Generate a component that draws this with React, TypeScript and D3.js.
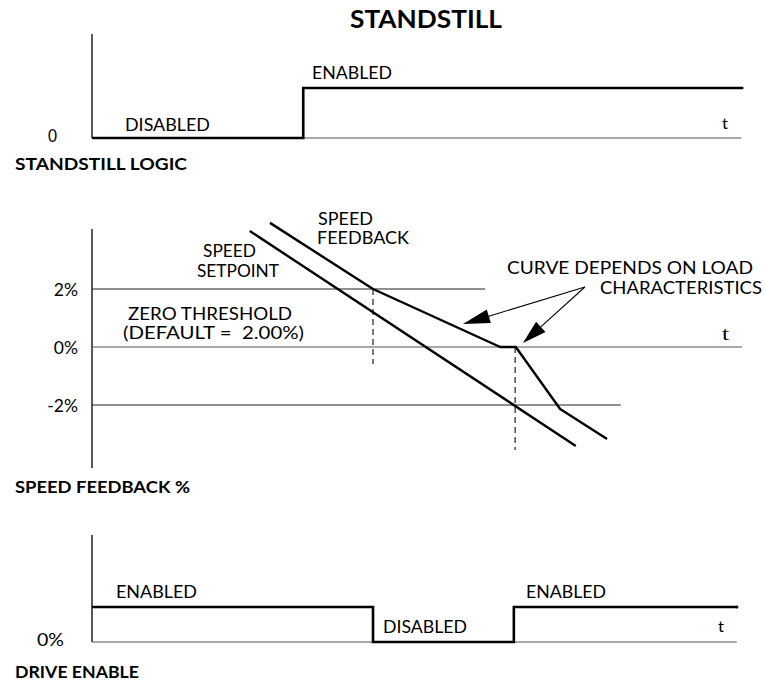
import React from "react";
import * as d3 from "d3";

// ---- data (time in arbitrary units 0..100, speed in %) ----
const timeDomain = [0, 100];
const standstillLogic: [number, number][] = [[0, 0], [32.4, 1], [99.9, 1]];
const standstillBaselineEnd = 99.6;
const driveEnable: [number, number][] = [[0, 1], [43.1, 0], [64.7, 1], [98.9, 1]];
const driveBaselineEnd = 98.9;
const speedSetpoint: [number, number][] = [[24.2, 4.0], [74.2, -3.41]];
const speedFeedback: [number, number][] = [[27.3, 4.28], [43.1, 2.0], [62.6, 0], [65.0, 0], [71.8, -2.14], [79.0, -3.17]];
const thresholdLevels = [2, 0, -2];
const thresholdEnds = [60.3, 99.7, 81.1];
const thresholdLabels = ["2%", "0%", "-2%"];
const dashedTimes = [43.1, 64.9];
const dashedFrom = [2, 0];
const dashedTo = [-0.59, -3.55];
const arrowOrigin: [number, number] = [75.6, 2.07];
const arrowTips: [number, number][] = [[56.9, 0.79], [66.1, 0.14]];

const SANS = "Lato, 'Noto Sans', sans-serif";

export default function App() {
  const x = d3.scaleLinear().domain(timeDomain).range([92, 744]);
  const y1 = d3.scaleLinear().domain([0, 1]).range([138, 88]);
  const y2 = d3.scaleLinear().domain([-2, 2]).range([405, 289]);
  const y3 = d3.scaleLinear().domain([0, 1]).range([642, 607]);

  const step1 = d3.line<[number, number]>().x((d) => x(d[0])).y((d) => y1(d[1])).curve(d3.curveStepAfter);
  const step3 = d3.line<[number, number]>().x((d) => x(d[0])).y((d) => y3(d[1])).curve(d3.curveStepAfter);
  const line2 = d3.line<[number, number]>().x((d) => x(d[0])).y((d) => y2(d[1]));

  const T = (props: { x: number; y: number; w: number; s?: number; b?: boolean; serif?: boolean; children: string }) => (
    <text
      x={props.x}
      y={props.y}
      fontSize={props.s ?? 17.5}
      fontWeight={props.b ? 700 : 400}
      fontFamily={props.serif ? "'Liberation Serif', serif" : SANS}
      textLength={props.w}
      lengthAdjust="spacingAndGlyphs"
      fill="#000"
      style={{ whiteSpace: "pre" }}
    >
      {props.children}
    </text>
  );

  const ox = x(arrowOrigin[0]);
  const oy = y2(arrowOrigin[1]);
  const arrows = arrowTips.map((tp, i) => {
    const tx = x(tp[0]);
    const ty = y2(tp[1]);
    const dx = ox - tx;
    const dy = oy - ty;
    const len = Math.hypot(dx, dy);
    const ux = dx / len;
    const uy = dy / len;
    const hl = i === 0 ? 27 : 24;
    const hw = 7;
    const bx = tx + ux * hl;
    const by = ty + uy * hl;
    const px = -uy;
    const py = ux;
    return (
      <g key={i}>
        <line x1={ox} y1={oy} x2={bx} y2={by} stroke="#000" strokeWidth={1.1} />
        <polygon
          points={`${tx},${ty} ${bx + px * hw},${by + py * hw} ${bx - px * hw},${by - py * hw}`}
          fill="#000"
        />
      </g>
    );
  });

  return (
    <svg width={765} height={684} style={{ position: "absolute", left: 0, top: 0, background: "#fff" }}>
      {/* Title */}
      <T x={350} y={28} w={152} s={24} b>STANDSTILL</T>

      {/* Panel 1: standstill logic */}
      <line x1={x(0)} x2={x(0)} y1={y1(0)} y2={y1(2.08)} stroke="#000" strokeWidth={1.3} />
      <line x1={x(0)} x2={x(standstillBaselineEnd)} y1={y1(0)} y2={y1(0)} stroke="#555" strokeWidth={1.2} />
      <path d={step1(standstillLogic) ?? ""} fill="none" stroke="#000" strokeWidth={2.6} />
      <T x={125} y={131} w={85}>DISABLED</T>
      <T x={312} y={79} w={80}>ENABLED</T>
      <T x={48} y={142} w={9}>0</T>
      <T x={722} y={129} w={6} s={15}>t</T>
      <T x={15} y={170} w={172} s={17} b>STANDSTILL LOGIC</T>

      {/* Panel 2: speed feedback */}
      <line x1={x(0)} x2={x(0)} y1={y2(4.07)} y2={y2(-4.17)} stroke="#000" strokeWidth={1.3} />
      {thresholdLevels.map((v, i) => (
        <line key={v} x1={x(0)} x2={x(thresholdEnds[i])} y1={y2(v)} y2={y2(v)} stroke={v === 0 ? "#555" : "#222"} strokeWidth={1.2} />
      ))}
      {thresholdLevels.map((v, i) => (
        <text
          key={"l" + v}
          x={78}
          y={y2(v) + 7}
          fontSize={17.5}
          fontFamily={SANS}
          textAnchor="end"
        >
          {thresholdLabels[i]}
        </text>
      ))}
      {dashedTimes.map((t, i) => (
        <line key={"d" + i} x1={x(t)} x2={x(t)} y1={y2(dashedFrom[i])} y2={y2(dashedTo[i])} stroke="#333" strokeWidth={1.3} strokeDasharray="6,4" />
      ))}
      <path d={line2(speedSetpoint) ?? ""} fill="none" stroke="#000" strokeWidth={2.4} />
      <path d={line2(speedFeedback) ?? ""} fill="none" stroke="#000" strokeWidth={2.4} strokeLinejoin="round" />
      {arrows}
      <T x={318} y={225} w={55}>SPEED</T>
      <T x={317} y={244} w={92}>FEEDBACK</T>
      <T x={203} y={257} w={53}>SPEED</T>
      <T x={197} y={277} w={82}>SETPOINT</T>
      <T x={128} y={320} w={164}>ZERO THRESHOLD</T>
      <T x={123} y={339} w={181}>{"(DEFAULT =\u00a0\u00a02.00%)"}</T>
      <T x={507} y={274} w={246}>CURVE DEPENDS ON LOAD</T>
      <T x={600} y={294} w={162}>CHARACTERISTICS</T>
      <T x={722} y={340} w={7} s={18} serif>t</T>
      <T x={15} y={493} w={175} s={17} b>SPEED FEEDBACK %</T>

      {/* Panel 3: drive enable */}
      <line x1={x(0)} x2={x(0)} y1={y3(0)} y2={y3(3.06)} stroke="#000" strokeWidth={1.3} />
      <line x1={x(0)} x2={x(driveBaselineEnd)} y1={y3(0)} y2={y3(0)} stroke="#555" strokeWidth={1.2} />
      <path d={step3(driveEnable) ?? ""} fill="none" stroke="#000" strokeWidth={2.6} />
      <circle cx={x(driveEnable[driveEnable.length - 1][0])} cy={y3(1)} r={1.6} fill="#000" />
      <T x={116} y={598} w={81}>ENABLED</T>
      <T x={383} y={633} w={84}>DISABLED</T>
      <T x={526} y={598} w={80}>ENABLED</T>
      <T x={718} y={632} w={6} s={15}>t</T>
      <T x={37} y={646} w={27}>0%</T>
      <T x={15} y={678} w={124} s={17} b>DRIVE ENABLE</T>
    </svg>
  );
}
